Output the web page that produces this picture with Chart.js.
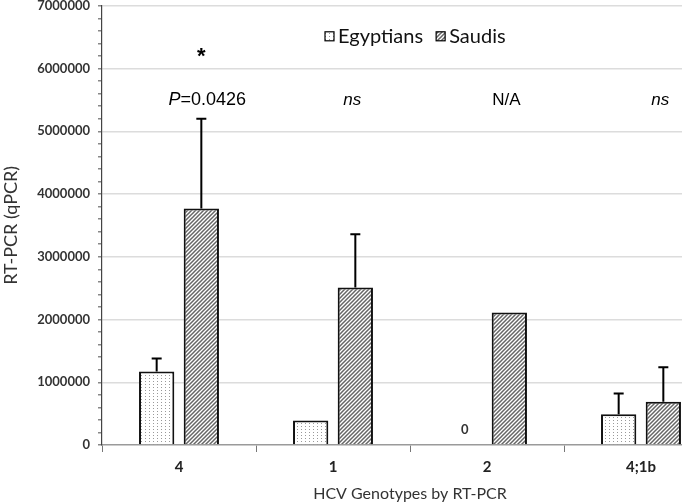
<!DOCTYPE html>
<html>
<head>
<meta charset="utf-8">
<script src="https://cdn.jsdelivr.net/npm/chart.js@4"></script>
<style>
  html, body { margin: 0; padding: 0; background: #fff; }
  #wrap { width: 682px; height: 503px; overflow: hidden; position: relative; }
  #box { position: absolute; left: 0; top: -10px; width: 720px; height: 513px; }
</style>
</head>
<body>
<div id="wrap"><div id="box"><canvas id="chart"></canvas></div></div>
<script>
// data
const genotypes = ['4', '1', '2', '4;1b'];
const egyptians = [1170000, 390000, 0, 490000];
const egyptiansSD = [210000, 0, 0, 330000];
const saudis = [3770000, 2510000, 2110000, 690000];
const saudisSD = [1430000, 850000, 0, 550000];
const significance = ['P=0.0426', 'ns', 'N/A', 'ns'];
const starred = [true, false, false, false];

const FONT = 'Lato, "Open Sans", sans-serif';
const ARIAL = '"Liberation Sans", Arial, sans-serif';

// fill patterns
function dotPattern() {
    const c = document.createElement('canvas');
    c.width = 4; c.height = 3;
    const g = c.getContext('2d');
    g.fillStyle = '#fff';
    g.fillRect(0, 0, 4, 3);
    g.fillStyle = '#999';
    g.fillRect(1, 1, 1, 1);
    return g.createPattern(c, 'repeat');
}

function hatchPattern() {
    const c = document.createElement('canvas');
    c.width = 4; c.height = 4;
    const g = c.getContext('2d');
    g.fillStyle = '#fff';
    g.fillRect(0, 0, 4, 4);
    g.strokeStyle = '#666';
    g.lineWidth = 1.5;
    g.beginPath();
    g.moveTo(-1, 5); g.lineTo(5, -1);
    g.moveTo(-1, 1); g.lineTo(1, -1);
    g.moveTo(3, 5); g.lineTo(5, 3);
    g.stroke();
    return g.createPattern(c, 'repeat');
}

const egyptFill = dotPattern();
const saudiFill = hatchPattern();

// error bars (upper only) + zero labels
const errorBars = {
    id: 'errorBars',
    afterDatasetsDraw(chart) {
        const ctx = chart.ctx;
        const y = chart.scales.y;
        const sds = [egyptiansSD, saudisSD];
        ctx.save();
        ctx.strokeStyle = '#000';
        ctx.lineWidth = 2;
        chart.data.datasets.forEach((ds, i) => {
            const meta = chart.getDatasetMeta(i);
            meta.data.forEach((bar, j) => {
                const sd = sds[i][j];
                if (ds.data[j] === 0) {
                    ctx.fillStyle = '#333';
                    ctx.font = 'bold 13px ' + FONT;
                    ctx.textAlign = 'center';
                    ctx.textBaseline = 'middle';
                    ctx.fillText('0', bar.x, bar.y - 15);
                }
                if (!sd) return;
                const top = y.getPixelForValue(ds.data[j] + sd);
                ctx.beginPath();
                ctx.moveTo(bar.x, bar.y);
                ctx.lineTo(bar.x, top);
                ctx.moveTo(bar.x - 5, top);
                ctx.lineTo(bar.x + 5, top);
                ctx.stroke();
            });
        });
        ctx.restore();
    }
};

// P values, ns, N/A and star above the Saudi bars
const annotations = {
    id: 'annotations',
    afterDraw(chart) {
        const ctx = chart.ctx;
        const y = chart.scales.y;
        const meta = chart.getDatasetMeta(1);
        ctx.save();
        ctx.fillStyle = '#000';
        ctx.textBaseline = 'middle';
        meta.data.forEach((bar, j) => {
            const ty = y.getPixelForValue(5500000);
            const txt = significance[j];
            if (txt.startsWith('P=')) {
                ctx.font = 'italic 18px ' + ARIAL;
                const w1 = ctx.measureText('P').width;
                ctx.font = '18px ' + ARIAL;
                const w2 = ctx.measureText(txt.slice(1)).width;
                const x0 = bar.x + 6 - (w1 + w2) / 2;
                ctx.textAlign = 'left';
                ctx.font = 'italic 18px ' + ARIAL;
                ctx.fillText('P', x0, ty);
                ctx.font = '18px ' + ARIAL;
                ctx.fillText(txt.slice(1), x0 + w1, ty);
            } else {
                ctx.textAlign = 'center';
                ctx.font = (txt === 'ns' ? 'italic ' : '') + '17px ' + ARIAL;
                ctx.fillText(txt, bar.x - 3, ty);
            }
            if (starred[j]) {
                ctx.textAlign = 'center';
                ctx.font = 'bold 22px ' + ARIAL;
                ctx.fillText('*', bar.x, y.getPixelForValue(6180000));
            }
        });
        ctx.restore();
    }
};

// legend drawn inside the plot area
const innerLegend = {
    id: 'innerLegend',
    afterDraw(chart) {
        const ctx = chart.ctx;
        const area = chart.chartArea;
        let x = area.left + 223;
        const cy = area.top + 31;
        ctx.save();
        ctx.font = '20px ' + FONT;
        ctx.textBaseline = 'middle';
        ctx.textAlign = 'left';
        chart.data.datasets.forEach(ds => {
            ctx.fillStyle = ds.backgroundColor;
            ctx.fillRect(x, cy - 5, 9, 9);
            ctx.strokeStyle = '#000';
            ctx.lineWidth = 1.2;
            ctx.strokeRect(x, cy - 5, 9, 9);
            ctx.fillStyle = '#111';
            ctx.fillText(ds.label, x + 13, cy);
            x += 13 + ctx.measureText(ds.label).width + 13;
        });
        ctx.restore();
    }
};

new Chart(document.getElementById('chart'), {
    type: 'bar',
    data: {
        labels: genotypes,
        datasets: [
            {
                label: 'Egyptians',
                data: egyptians,
                backgroundColor: egyptFill,
                borderColor: '#111',
                borderWidth: 2,
                categoryPercentage: 0.58,
                barPercentage: 0.79
            },
            {
                label: 'Saudis',
                data: saudis,
                backgroundColor: saudiFill,
                borderColor: '#111',
                borderWidth: 2,
                categoryPercentage: 0.58,
                barPercentage: 0.79
            }
        ]
    },
    options: {
        responsive: true,
        maintainAspectRatio: false,
        animation: false,
        layout: { padding: { left: 0, right: 2, top: 0, bottom: 0 } },
        plugins: {
            legend: { display: false },
            tooltip: { enabled: false }
        },
        scales: {
            x: {
                grid: {
                    offset: true,
                    drawOnChartArea: false,
                    color: '#777',
                    tickLength: 7
                },
                border: { color: '#9a9a9a', width: 1.5 },
                ticks: {
                    color: '#222',
                    font: { family: FONT, size: 15, weight: 'bold' },
                    padding: 6
                },
                title: {
                    display: true,
                    text: 'HCV Genotypes by RT-PCR',
                    color: '#333',
                    font: { family: FONT, size: 16 },
                    padding: { top: 2, bottom: 0 }
                },
                afterFit: s => { s.height = 58; }
            },
            y: {
                min: 0,
                max: 7000000,
                ticks: {
                    stepSize: 200000,
                    autoSkip: false,
                    color: '#333',
                    font: { family: FONT, size: 13, weight: 'bold' },
                    padding: 8,
                    callback: v => (v % 1000000 === 0 ? String(v) : '')
                },
                grid: {
                    color: c => (c.tick && c.tick.value % 1000000 === 0 && c.tick.value > 0 ? '#dcdcdc' : 'rgba(0,0,0,0)'),
                    tickColor: '#888',
                    tickLength: 4,
                    lineWidth: 1.5
                },
                border: { color: '#444', width: 1.2 },
                title: {
                    display: true,
                    text: 'RT-PCR (qPCR)',
                    color: '#333',
                    font: { family: FONT, size: 18 },
                    padding: { top: 0, bottom: 2 }
                },
                afterFit: s => { s.width = 102; }
            }
        }
    },
    plugins: [errorBars, annotations, innerLegend]
});
</script>
</body>
</html>
